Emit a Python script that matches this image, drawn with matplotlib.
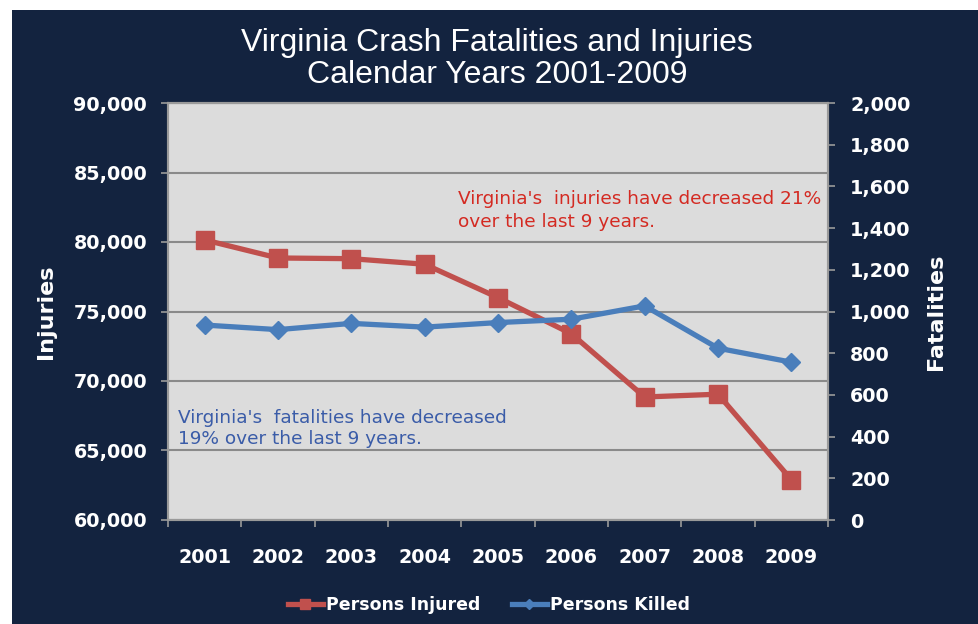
import matplotlib.pyplot as plt
from matplotlib.patches import Rectangle
from matplotlib.ticker import FuncFormatter

years = ['2001', '2002', '2003', '2004', '2005', '2006', '2007', '2008', '2009']
injured = [80150, 78850, 78800, 78400, 76000, 73400, 68850, 69050, 62900]
killed = [935, 913, 943, 925, 947, 963, 1027, 824, 757]

navy = '#13233f'
red = '#c0504d'
blue = '#4a7ebb'

plt.rcParams['font.family'] = ['DejaVu Sans']

fig = plt.figure(figsize=(9.79, 6.24), dpi=100)
fig.patch.set_facecolor('white')
fig.patches.append(Rectangle((12 / 979, 0), 1, (624 - 10) / 624, transform=fig.transFigure,
                             facecolor=navy, edgecolor='none', zorder=-10))

ax = fig.add_axes([168 / 979, 104 / 624, 660 / 979, 417 / 624])
ax.set_facecolor('#dcdcdc')
x = range(len(years))

ax2 = ax.twinx()

l1, = ax.plot(x, injured, color=red, lw=3.8, marker='s', ms=13, label='Persons Injured', zorder=3)
l2, = ax2.plot(x, killed, color=blue, lw=3.8, marker='D', ms=9, label='Persons Killed', zorder=3)

ax.set_xlim(-0.5, len(years) - 0.5)
ax.set_ylim(60000, 90000)
ax.set_yticks(range(60000, 90001, 5000))
ax2.set_ylim(0, 2000)
ax2.set_yticks(range(0, 2001, 200))
ax.set_xticks(list(x))
ax.set_xticks([i - 0.5 for i in range(len(years) + 1)], minor=True)
ax.set_xticklabels(years)
ax.yaxis.set_major_formatter(FuncFormatter(lambda v, p: f'{int(v):,}'))
ax2.yaxis.set_major_formatter(FuncFormatter(lambda v, p: f'{int(v):,}'))

ax.grid(axis='y', color='#8a8a8a', lw=1.5)
ax.set_axisbelow(True)

for a in (ax, ax2):
    for s in a.spines.values():
        s.set_color('#9a9a9a')
        s.set_linewidth(1.5)
    a.tick_params(colors='#9a9a9a', labelcolor='white', labelsize=13.8, length=5, width=1.2)
    for lab in a.get_yticklabels() + a.get_xticklabels():
        lab.set_fontweight('bold')
ax.tick_params(axis='y', pad=10)
ax2.tick_params(axis='y', pad=11)
ax.tick_params(axis='x', which='major', length=0, pad=20)
ax.tick_params(axis='x', which='minor', length=5, width=1.2, colors='#9a9a9a')

ax.set_ylabel('Injuries', color='white', fontsize=16, fontweight='bold')
ax.yaxis.set_label_coords((56 - 168) / 660, 0.5)
ax2.set_ylabel('Fatalities', color='white', fontsize=16, fontweight='bold')
ax2.yaxis.set_label_coords((926 - 168) / 660, 0.5)

fig.text(497 / 979, 1 - 59 / 624, 'Virginia Crash Fatalities and Injuries\nCalendar Years 2001-2009',
         color='white', fontsize=23, ha='center', va='center', linespacing=1.1,
         family=['Liberation Sans', 'DejaVu Sans'])

ax.text(0.439, 0.742, "Virginia's  injuries have decreased 21%\nover the last 9 years.",
        transform=ax.transAxes, color='#d42a22', fontsize=13.3, va='center', linespacing=1.35)
ax.text(0.015, 0.219, "Virginia's  fatalities have decreased\n19% over the last 9 years.",
        transform=ax.transAxes, color='#3a5ca8', fontsize=13.3, va='center', linespacing=1.25)

leg = fig.legend(handles=[l1, l2], loc='center', bbox_to_anchor=(489 / 979, 1 - 605 / 624), ncol=2,
                 frameon=False, fontsize=12.5, labelcolor='white', handlelength=2.0,
                 columnspacing=1.8, handletextpad=0.2, markerscale=0.6)
for t in leg.get_texts():
    t.set_fontweight('bold')

fig.savefig('out.png', dpi=100, facecolor=fig.get_facecolor())
